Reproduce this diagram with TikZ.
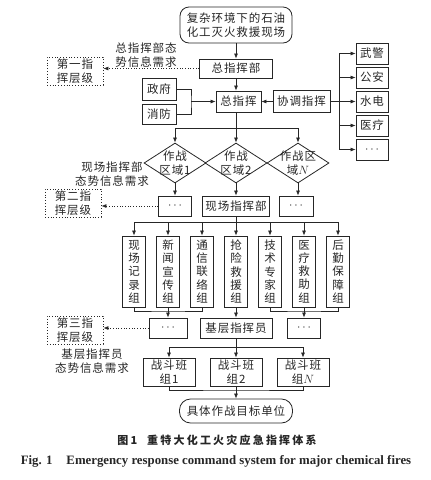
\documentclass[tikz,border=0pt]{standalone}
\usepackage{fontspec}
\setmainfont{Liberation Serif}
\newfontfamily\cjk[LetterSpace=8]{Noto Sans CJK SC}
\newfontfamily\cjkcol{Noto Sans CJK SC}
\newfontfamily\cjkcap[LetterSpace=20]{Noto Sans CJK SC}
\usetikzlibrary{shapes.geometric,arrows.meta}

\begin{document}
\begin{tikzpicture}[x=1pt, y=-1pt, line width=0.7pt, draw=black!85,
  >={Latex[length=5pt,width=4pt]},
  every node/.style={font={\cjk\fontsize{11.5}{13.5}\selectfont}, text=black!85},
  box/.style={draw=black!85, line width=0.8pt, inner sep=0pt, minimum height=20pt, align=center},
  colbox/.style={box, minimum width=23pt, minimum height=71pt, font={\cjkcol\fontsize{11.5}{13.3}\selectfont}},
  lvlbox/.style={box, dotted, minimum width=56pt, minimum height=28pt},
  dia/.style={diamond, draw=black!85, line width=0.8pt, inner sep=0pt, minimum width=62pt, minimum height=40pt},
  need/.style={align=center, inner sep=0pt}]
  \useasboundingbox (0,0) rectangle (431,480);

  % scene and top command
  \node[box, rounded corners=9pt, minimum width=112pt, minimum height=36pt] (scene) at (236,25) {复杂环境下的石油\\化工灭火救援现场};
  \node[box, minimum width=73pt, minimum height=19pt] (hq) at (236,68.5) {总指挥部};
  \node[box, minimum width=45pt, minimum height=21pt] (chief) at (238.5,101.5) {总指挥};
  \node[box, minimum width=57pt, minimum height=22pt] (coord) at (301.5,101.5) {协调指挥};
  \node[box, minimum width=34pt, minimum height=22pt] (gov) at (159,89) {政府};
  \node[box, minimum width=34pt, minimum height=20pt] (fire) at (159,114.5) {消防};
  \draw[->] (scene) -- (hq);
  \draw[->] (hq.south) -- (hq.south |- chief.north);
  \draw[->] (coord) -- (chief);
  \coordinate (gjoin) at (191,101.5);
  \draw (gov.east) -| (gjoin) |- (fire.east);
  \draw[->] (gjoin) -- (chief);

  % cooperating units
  \foreach \n/\t [count=\i] in {wj/武警, ga/公安, sd/水电, yl/医疗, etc/$\cdots$}
    \node[box, minimum width=32pt, minimum height=21pt] (\n) at (372,29.5+24*\i) {\t};
  \coordinate (cbus) at (339,101.5);
  \draw (coord) -- (cbus);
  \foreach \n in {wj,ga,sd,yl,etc}
    \draw[->] (cbus) |- (\n.west);

  % level 1
  \node[lvlbox] (lv1) at (75,71) {第一指\\挥层级};
  \draw[dotted, ->] (hq.west) -- (hq.west -| lv1.east);
  \node[need] (need1) at (146,55) {总指挥部态\\势信息需求};

  % combat zones
  \node[dia, label={[align=center]center:作战\\区域1}] (z1) at (175,163) {};
  \node[dia, label={[align=center]center:作战\\区域2}] (z2) at (236,163) {};
  \node[dia, label={[align=center]center:作战区\\域$N$}] (zn) at (298,163) {};
  \coordinate (zbus) at (236,128);
  \draw (chief.south -| zbus) -- (zbus);
  \draw[->] (zbus) -| (z1.north);
  \draw[->] (zbus) -- (z2.north);
  \draw[->] (zbus) -| (zn.north);

  % field command
  \node[box, minimum width=33pt] (d1) at (175,206) {$\cdots$};
  \node[box, minimum width=67pt] (fhq) at (236,206) {现场指挥部};
  \node[box, minimum width=34pt] (dn) at (296,206) {$\cdots$};
  \draw[->] (z1) -- (d1);
  \draw[->] (z2) -- (fhq);
  \draw[->] (zn.south) -- (zn.south |- dn.north);

  % level 2
  \node[lvlbox] (lv2) at (73,203) {第二指\\挥层级};
  \draw[dotted, ->] (d1.west) -- (d1.west -| lv2.east);
  \node[need] (need2) at (112,174) {现场指挥部\\态势信息需求};

  % working groups
  \foreach \n/\t [count=\i] in {g1/现\\场\\记\\录\\组, g2/新\\闻\\宣\\传\\组, g3/通\\信\\联\\络\\组,
      g4/抢\\险\\救\\援\\组, g5/技\\术\\专\\家\\组, g6/医\\疗\\救\\助\\组, g7/后\\勤\\保\\障\\组}
    \node[colbox] (\n) at (100+34*\i,271.5) {\t};
  \coordinate (fbus) at (236,222);
  \draw (fhq) -- (fbus);
  \foreach \n in {g1,g2,g3,g4,g5,g6,g7}
    \draw[->] (fbus) -| (\n.north);

  % base command
  \node[box, minimum width=38pt] (dl) at (168,328) {$\cdots$};
  \node[box, minimum width=72pt] (base) at (236,328) {基层指挥员};
  \node[box, minimum width=33pt] (dr) at (304,328) {$\cdots$};
  \coordinate (j1) at (168,311);
  \coordinate (j2) at (304,311);
  \draw (g1.south) |- (j1) -| (g3.south);
  \draw (g5.south) |- (j2) -| (g7.south);
  \draw[->] (g2) -- (dl);
  \draw[->] (g4) -- (base);
  \draw[->] (g6) -- (dr);

  % level 3
  \node[lvlbox] (lv3) at (75,330) {第三指\\挥层级};
  \draw[dotted, ->] (dl.west) -- (dl.west -| lv3.east);
  \node[need] (need3) at (92,361) {基层指挥员\\态势信息需求};

  % combat squads
  \node[box, minimum width=52pt, minimum height=28pt] (b1) at (169,372) {战斗班\\组1};
  \node[box, minimum width=52pt, minimum height=28pt] (b2) at (236,372) {战斗班\\组2};
  \node[box, minimum width=52pt, minimum height=28pt] (bn) at (303,372) {战斗班\\组$N$};
  \coordinate (bbus) at (236,347);
  \draw (base) -- (bbus);
  \draw[->] (bbus) -| (b1.north);
  \draw[->] (bbus) -- (b2.north);
  \draw[->] (bbus) -| (bn.north);

  % target
  \node[box, rounded corners=11pt, minimum width=113pt, minimum height=24pt] (target) at (236,411) {具体作战目标单位};
  \coordinate (tbus) at (236,390);
  \draw (b1.south) |- (tbus) -| (bn.south);
  \draw[->] (b2) -- (target);

  % captions
  \node[font={\cjkcap\bfseries\fontsize{11}{13}\selectfont}] (capzh) at (217,440) {图1\hspace{10pt}重特大化工火灾应急指挥体系};
  \node[font={\rmfamily\bfseries\fontsize{12.8}{14}\selectfont}] (capen) at (216,461) {Fig. 1\hspace{14pt}Emergency response command system for major chemical fires};
\end{tikzpicture}
\end{document}
